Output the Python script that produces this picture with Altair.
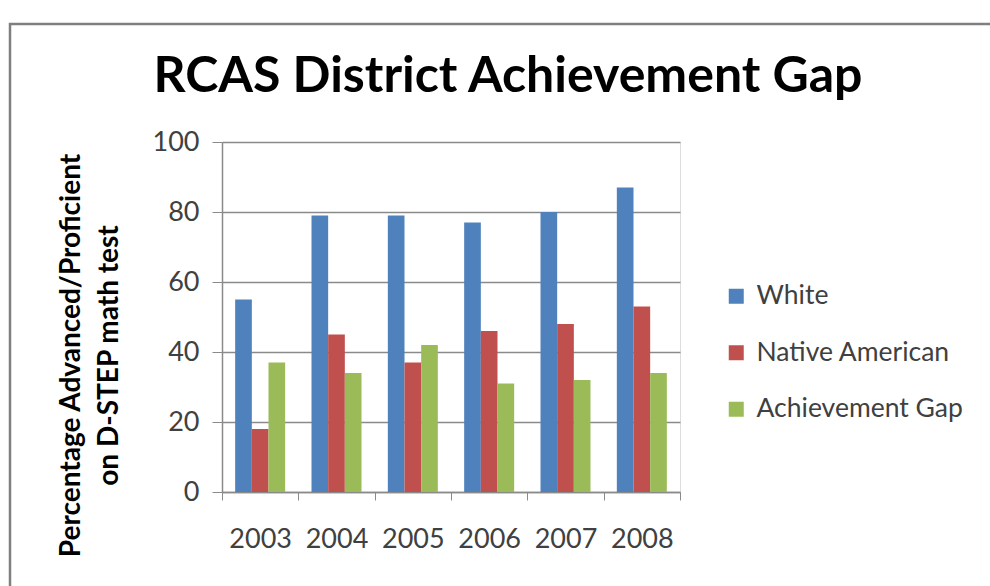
import altair as alt
import pandas as pd

years = ["2003", "2004", "2005", "2006", "2007", "2008"]
white = [55, 79, 79, 77, 80, 87]
native = [18, 45, 37, 46, 48, 53]
gap = [37, 34, 42, 31, 32, 34]
series = ["White", "Native American", "Achievement Gap"]
colors = ["#4F81BD", "#C0504D", "#9BBB59"]
y_ticks = [0, 20, 40, 60, 80, 100]
chart_title = "RCAS District Achievement Gap"

rows = []
for i, yr in enumerate(years):
    for s, vals in zip(series, [white, native, gap]):
        rows.append({"Year": yr, "Series": s, "Value": vals[i]})
df = pd.DataFrame(rows)

FONT = "Lato"
GRID = "#8a8a8a"
LABEL = "#404040"

bars = alt.Chart(df).mark_bar().encode(
    x=alt.X("Year:N", sort=years,
            scale=alt.Scale(paddingInner=0, paddingOuter=0),
            axis=alt.Axis(title=None, tickBand="extent", labelAngle=0,
                          labelFont=FONT, labelFontSize=27, labelColor=LABEL,
                          labelPadding=26, tickSize=8, tickColor=GRID,
                          domainColor=GRID, domainWidth=1.5, grid=False)),
    xOffset=alt.XOffset("Series:N", sort=series,
                        scale=alt.Scale(paddingOuter=0.79, paddingInner=0)),
    y=alt.Y("Value:Q", scale=alt.Scale(domain=[0, 100]),
            axis=alt.Axis(values=y_ticks,
                          title=["Percentage Advanced/Proficient", "on D-STEP math test"],
                          titleFont=FONT, titleFontSize=28, titleFontWeight="bold",
                          titleColor="#000000", titleLineHeight=38,
                          titleAngle=270, titleX=-137, titleY=213,
                          titleAlign="center", titleBaseline="bottom",
                          labelFont=FONT, labelFontSize=27, labelColor=LABEL,
                          labelPadding=13, tickSize=10, tickColor=GRID,
                          domainColor=GRID, domainWidth=1.5,
                          gridColor=GRID, gridWidth=1.5)),
    color=alt.Color("Series:N", sort=series,
                    scale=alt.Scale(domain=series, range=colors),
                    legend=alt.Legend(title=None, orient="none", legendX=501, legendY=141,
                                      symbolType="square", symbolSize=225,
                                      symbolStrokeWidth=0, labelFont=FONT,
                                      labelFontSize=26.5, labelColor=LABEL, labelLimit=400,
                                      labelOffset=7, rowPadding=29.5)),
)

border = alt.Chart(alt.Data(values=[{}])).mark_rect(
    fill=None, stroke="#7f7f7f", strokeWidth=2.5
).encode(
    x=alt.value(-212), x2=alt.value(900),
    y=alt.value(-118), y2=alt.value(600),
)

title = alt.Chart(alt.Data(values=[{"t": chart_title}])).mark_text(
    font=FONT, fontSize=50, fontWeight="bold", color="#000000",
    align="center", baseline="alphabetic"
).encode(
    text="t:N", x=alt.value(286), y=alt.value(-50),
)

chart = alt.layer(border, bars, title).properties(
    width=458, height=350,
    autosize=alt.AutoSizeParams(type="none"),
    padding={"left": 222, "top": 142, "right": 310, "bottom": 94},
).configure_view(stroke=None).configure(background="white")

chart.save("out.html", embed_options={"renderer": "svg", "actions": False})
